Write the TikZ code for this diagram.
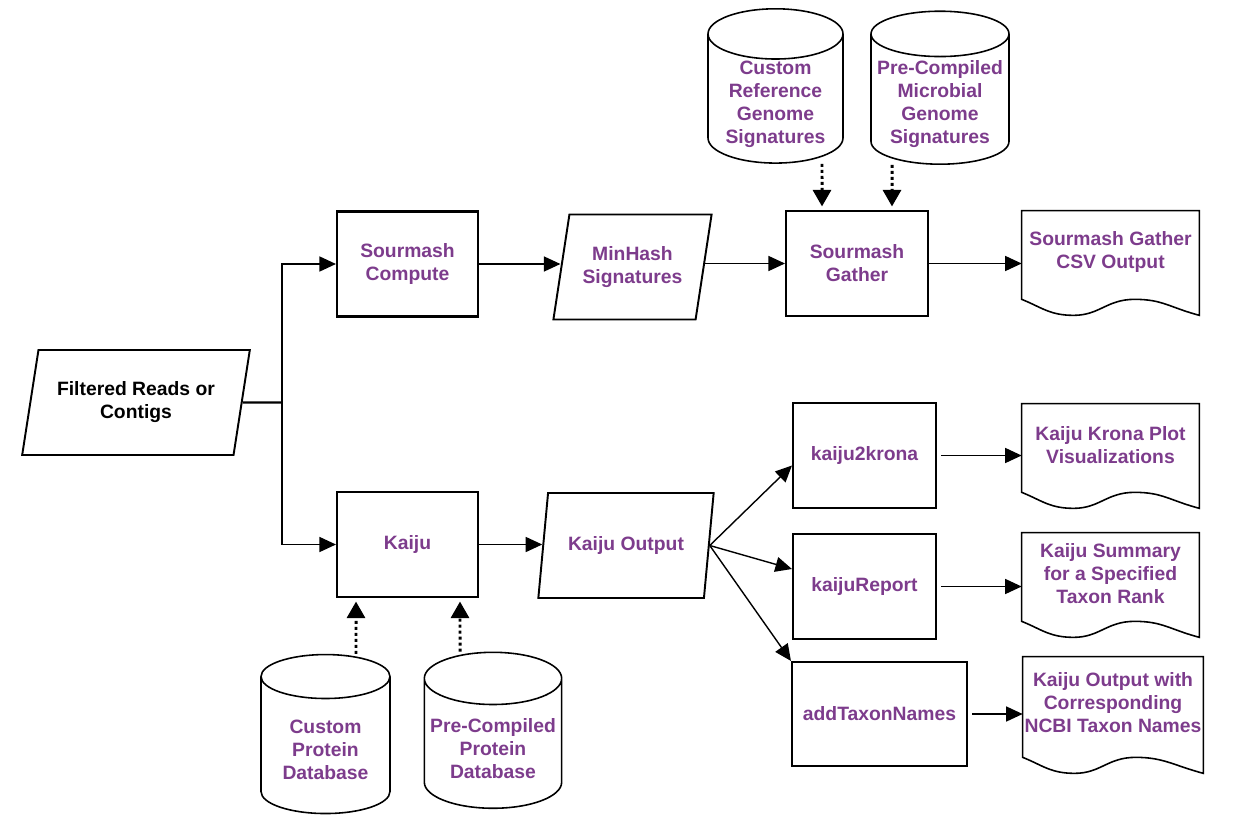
\documentclass[tikz,border=0pt]{standalone}
\usepackage{fontspec}
\setmainfont{Liberation Sans}
\usetikzlibrary{shapes.geometric,arrows.meta,calc}
\definecolor{toolpurple}{HTML}{7D3C8C}
\newcommand\flowfont{\fontsize{11}{13.1}\selectfont\bfseries}
\newcommand\paperedge[3]{\draw [line width=0.9pt]($(#1.south west)+(0,#2)$) -- (#1.north west) -- (#1.north east) -- ($(#1.south east)+(0,#3)$) .. controls +(-30,-8) and +(28,0) .. ($(#1.south west)+(113,#2)$) .. controls +(-28,0) and +(26,0) .. ($(#1.south west)+(52,#3)$) .. controls +(-24,0) and +(20,8) .. ($(#1.south west)+(0,#2)$) -- cycle;}
\tikzset{
  proc/.style={draw,line width=1.2pt,minimum width=2.82cm,minimum height=2.1cm,font=\flowfont,text=toolpurple,align=center},
  dataio/.style={trapezium,trapezium left angle=75,trapezium right angle=105,trapezium stretches=true,draw,line width=1.1pt,minimum height=2.1cm,font=\flowfont,text=toolpurple,align=center},
  dbase/.style={cylinder,shape border rotate=90,aspect=0.45,draw,line width=0.9pt,font=\flowfont,text=toolpurple,align=center},
  paper/.style={minimum width=3.54cm,minimum height=1.64cm,inner sep=0pt,font=\flowfont,text=toolpurple,align=center},
  flow/.style={-{Triangle[length=0.33cm,width=0.3cm]},line width=0.8pt},
  feed/.style={-{Triangle[length=0.33cm,width=0.36cm]},line width=1.7pt,dash pattern=on 1.7pt off 1.7pt,shorten >=2pt}
}
\begin{document}
\begin{tikzpicture}[x=0.02cm,y=-0.02cm]
\useasboundingbox (0,0) rectangle (1237,831);
\node [dataio,minimum width=4.56cm,text=black] (reads) at (136,402.5) {Filtered Reads or\\Contigs};
\node [proc] (compute) at (407.5,264) {Sourmash\\Compute};
\node [dataio,minimum width=3.18cm] (minhash) at (632.5,267) {MinHash\\Signatures};
\node [proc,minimum width=2.84cm] (gather) at (857,263.5) {Sourmash\\Gather};
\node [paper] (csv) at (1110.5,252) {Sourmash Gather\\CSV Output};
\node [dbase,inner ysep=0.5pt,minimum width=2.7cm,minimum height=3.06cm] (refsig) at (775.5,104) {Custom\\Reference\\Genome\\Signatures};
\node [dbase,aspect=0.33,inner ysep=0.5pt,minimum width=2.76cm,minimum height=3.06cm] (microsig) at (940,104) {Pre-Compiled\\Microbial\\Genome\\Signatures};
\node [proc] (kaiju) at (407.5,544.5) {Kaiju};
\node [dataio,minimum width=3.52cm] (kout) at (626,545.5) {Kaiju Output};
\node [dbase,minimum width=2.58cm,minimum height=3.18cm] (protdb) at (325.5,750) {Custom\\Protein\\Database};
\node [dbase,aspect=0.38,minimum width=2.64cm,minimum height=3.12cm] (predb) at (493,749) {Pre-Compiled\\Protein\\Database};
\node [proc,minimum width=2.86cm] (krona) at (864.5,455.5) {kaiju2krona};
\node [proc,minimum width=2.86cm] (report) at (864.5,586.5) {kaijuReport};
\node [proc,minimum width=3.5cm,minimum height=2.08cm] (addnames) at (879.5,714) {addTaxonNames};
\node [paper] (kronaviz) at (1110.5,445) {Kaiju Krona Plot\\Visualizations};
\node [paper] (summary) at (1110.5,574) {Kaiju Summary\\for a Specified\\Taxon Rank};
\node [paper,minimum width=3.6cm,minimum height=1.84cm] (withnames) at (1113,703) {Kaiju Output with\\Corresponding\\NCBI Taxon Names};
\paperedge{csv}{6}{22}
\paperedge{kronaviz}{6}{22}
\paperedge{summary}{6}{22}
\paperedge{withnames}{8}{24}
\coordinate (split) at (282,402.5);
\draw [line width=1.4pt](reads.east) -- (split);
\draw [flow](split) |- (compute.west);
\draw [flow](split) |- (kaiju.west);
\draw [flow](compute.east) -- (compute.east -| minhash.west);
\draw [flow](minhash.east |- gather.west) -- (gather.west);
\draw [flow](gather.east) -- (gather.east -| csv.west);
\draw [feed]([xshift=0.93cm]refsig.south) -- ([xshift=-0.7cm]gather.north);
\draw [feed]([xshift=-0.96cm]microsig.south) -- ([xshift=0.7cm]gather.north);
\draw [flow](kaiju.east) -- (kaiju.east -| kout.west);
\draw [feed]([xshift=0.61cm]protdb.north) -- ([xshift=-1.03cm]kaiju.south);
\draw [feed]([xshift=-0.66cm]predb.north) -- ([xshift=1.05cm]kaiju.south);
\draw [flow](kout.east) -- ([yshift=-0.2cm]krona.west);
\draw [flow](kout.east) -- ([yshift=0.35cm]report.west);
\draw [flow](kout.east) -- (addnames.north west);
\draw [flow]([xshift=0.08cm]krona.east) -- (krona.east -| kronaviz.west);
\draw [flow]([xshift=0.08cm]report.east) -- (report.east -| summary.west);
\draw [flow]([xshift=0.08cm]addnames.east) -- (addnames.east -| withnames.west);
\end{tikzpicture}
\end{document}
